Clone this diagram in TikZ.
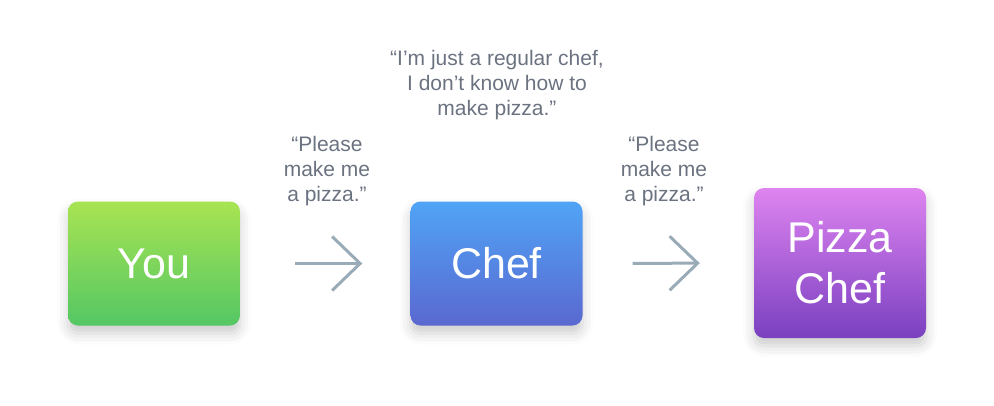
\documentclass[tikz,border=0pt]{standalone}
\usepackage{fontspec}
\setmainfont{Liberation Sans}
\usepackage{tikz}
\usetikzlibrary{arrows.meta,shadows.blur}
\usepackage{xcolor}
\definecolor{youtop}{RGB}{168,228,82}
\definecolor{youbot}{RGB}{84,199,100}
\definecolor{cheftop}{RGB}{80,164,246}
\definecolor{chefbot}{RGB}{90,104,208}
\definecolor{pizzatop}{RGB}{222,132,240}
\definecolor{pizzabot}{RGB}{122,64,192}
\definecolor{arrgray}{RGB}{154,171,184}
\definecolor{quotegray}{RGB}{107,114,128}

\begin{document}
\begin{tikzpicture}[x=1pt, y=-1pt,
    box/.style={rectangle, rounded corners=10pt, minimum width=172pt, minimum height=124pt,
                align=center, text=white, font=\fontsize{43}{51}\selectfont,
                blur shadow={shadow xshift=0pt, shadow yshift=-8pt, shadow blur radius=11pt, shadow opacity=20}},
    quote/.style={align=center, text=quotegray, font=\fontsize{21}{25}\selectfont},
    arr/.style={-{Straight Barb[length=28pt, width=54pt]}, line width=3pt, arrgray}
]
\useasboundingbox (0,0) rectangle (994,405);
\node[box, top color=youtop, bottom color=youbot] (you) at (154,263.5) {You};
\node[box, top color=cheftop, bottom color=chefbot] (chef) at (496.5,263.5) {Chef};
\node[box, top color=pizzatop, bottom color=pizzabot, minimum height=150pt] (pizza) at (840,263) {Pizza\\Chef};

\node[quote] (ask1) at (327,171) {“Please\\make me\\a pizza.”};
\node[quote] (reply) at (497,85) {“I{\char"27}m just a regular chef,\\I don’t know how to\\make pizza.”};
\node[quote] (ask2) at (664,171) {“Please\\make me\\a pizza.”};

\draw[arr, shorten <=55pt, shorten >=48pt] (you) -- (chef);
\draw[arr, shorten <=50pt, shorten >=54pt] (chef) -- (pizza);
\end{tikzpicture}
\end{document}
